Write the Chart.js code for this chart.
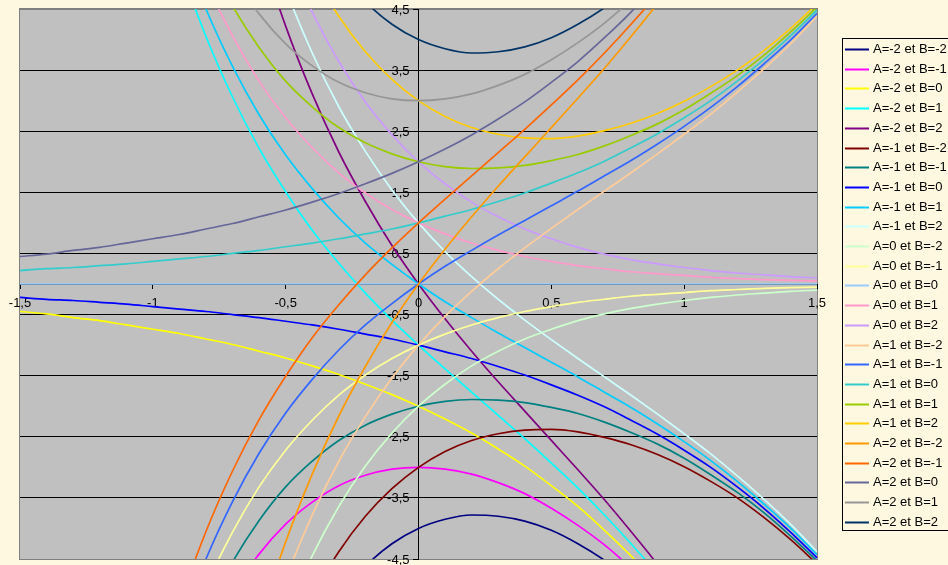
<!DOCTYPE html>
<html>
<head>
<meta charset="utf-8">
<title>A e^x + B e^-2x</title>
<script src="https://cdn.jsdelivr.net/npm/chart.js@4.4.0/dist/chart.umd.min.js"></script>
<style>
  html, body { margin: 0; padding: 0; background: #FFF8E0; }
  #wrap { position: relative; width: 948px; height: 565px; overflow: hidden; }
</style>
</head>
<body>
<div id="wrap">
  <canvas id="myChart" width="948" height="565"></canvas>
</div>
<script>
// abscisses
const xValues = [-1.5,-1.4,-1.3,-1.2,-1.1,-1,-0.9,-0.8,-0.7,-0.6,-0.5,-0.4,-0.3,-0.2,-0.1,0,
                 0.1,0.2,0.3,0.4,0.5,0.6,0.7,0.8,0.9,1,1.1,1.2,1.3,1.4,1.5];
const xTicks = [-1.5,-1,-0.5,0,0.5,1,1.5];
const xTickLabels = ['-1,5','-1','-0,5','0','0,5','1','1,5'];
const yTicks = [-4.5,-3.5,-2.5,-1.5,-0.5,0.5,1.5,2.5,3.5,4.5];
const yTickLabels = ['-4,5','-3,5','-2,5','-1,5','-0,5','0,5','1,5','2,5','3,5','4,5'];

const seriesLabels = [
  'A=-2 et B=-2','A=-2 et B=-1','A=-2 et B=0','A=-2 et B=1','A=-2 et B=2',
  'A=-1 et B=-2','A=-1 et B=-1','A=-1 et B=0','A=-1 et B=1','A=-1 et B=2',
  'A=0 et B=-2','A=0 et B=-1','A=0 et B=0','A=0 et B=1','A=0 et B=2',
  'A=1 et B=-2','A=1 et B=-1','A=1 et B=0','A=1 et B=1','A=1 et B=2',
  'A=2 et B=-2','A=2 et B=-1','A=2 et B=0','A=2 et B=1','A=2 et B=2'
];
const seriesColors = [
  '#000080','#FF00FF','#FFFF00','#00FFFF','#800080',
  '#800000','#008080','#0000FF','#00CCFF','#CCFFFF',
  '#CCFFCC','#FFFF99','#99CCFF','#FF99CC','#CC99FF',
  '#FFCC99','#3366FF','#33CCCC','#99CC00','#FFCC00',
  '#FF9900','#FF6600','#666699','#969696','#003366'
];

// valeurs
const yAm2Bm2 = [-40.62,-33.38,-27.47,-22.65,-18.72,-15.51,-12.91,-10.80,-9.10,-7.74,-6.65,-5.79,-5.13,-4.62,-4.25,-4,-3.85,-3.78,-3.80,-3.88,-4.03,-4.25,-4.52,-4.85,-5.25,-5.71,-6.23,-6.82,-7.49,-8.23,-9.06];
const yAm2Bm1 = [-20.53,-16.94,-14.01,-11.63,-9.69,-8.12,-6.86,-5.85,-5.05,-4.42,-3.93,-3.57,-3.30,-3.13,-3.03,-3,-3.03,-3.11,-3.25,-3.43,-3.67,-3.95,-4.27,-4.65,-5.08,-5.57,-6.12,-6.73,-7.41,-8.17,-9.01];
const yAm2B0  = [-0.45,-0.49,-0.55,-0.60,-0.67,-0.74,-0.81,-0.90,-0.99,-1.10,-1.21,-1.34,-1.48,-1.64,-1.81,-2,-2.21,-2.44,-2.70,-2.98,-3.30,-3.64,-4.03,-4.45,-4.92,-5.44,-6.01,-6.64,-7.34,-8.11,-8.96];
const yAm2B1  = [19.64,15.95,12.92,10.42,8.36,6.65,5.24,4.05,3.06,2.22,1.51,0.88,0.34,-0.15,-0.59,-1,-1.39,-1.77,-2.15,-2.53,-2.93,-3.34,-3.78,-4.25,-4.75,-5.30,-5.90,-6.55,-7.26,-8.05,-8.91];
const yAm2B2  = [39.72,32.40,26.38,21.44,17.38,14.04,11.29,9.01,7.12,5.54,4.22,3.11,2.16,1.35,0.63,0,-0.57,-1.10,-1.60,-2.08,-2.56,-3.04,-3.53,-4.05,-4.59,-5.17,-5.79,-6.46,-7.19,-7.99,-8.86];
const yAm1Bm2 = [-40.39,-33.14,-27.20,-22.35,-18.38,-15.15,-12.51,-10.36,-8.61,-7.19,-6.04,-5.12,-4.38,-3.80,-3.35,-3,-2.74,-2.56,-2.45,-2.39,-2.38,-2.42,-2.51,-2.63,-2.79,-2.99,-3.23,-3.50,-3.82,-4.18,-4.58];
const yAm1Bm1 = [-20.31,-16.69,-13.74,-11.32,-9.36,-7.76,-6.46,-5.40,-4.55,-3.87,-3.32,-2.90,-2.56,-2.31,-2.13,-2,-1.92,-1.89,-1.90,-1.94,-2.02,-2.12,-2.26,-2.43,-2.62,-2.85,-3.12,-3.41,-3.74,-4.12,-4.53];
const yAm1B0  = [-0.22,-0.25,-0.27,-0.30,-0.33,-0.37,-0.41,-0.45,-0.50,-0.55,-0.61,-0.67,-0.74,-0.82,-0.90,-1,-1.11,-1.22,-1.35,-1.49,-1.65,-1.82,-2.01,-2.23,-2.46,-2.72,-3.00,-3.32,-3.67,-4.06,-4.48];
const yAm1B1  = [19.86,16.20,13.19,10.72,8.69,7.02,5.64,4.50,3.56,2.77,2.11,1.56,1.08,0.67,0.32,0,-0.29,-0.55,-0.80,-1.04,-1.28,-1.52,-1.77,-2.02,-2.29,-2.58,-2.89,-3.23,-3.60,-3.99,-4.43];
const yAm1B2  = [39.95,32.64,26.65,21.74,17.72,14.41,11.69,9.46,7.61,6.09,4.83,3.78,2.90,2.17,1.54,1,0.53,0.12,-0.25,-0.59,-0.91,-1.22,-1.52,-1.82,-2.13,-2.45,-2.78,-3.14,-3.52,-3.93,-4.38];
const yA0Bm2  = [-40.17,-32.89,-26.93,-22.05,-18.05,-14.78,-12.10,-9.91,-8.11,-6.64,-5.44,-4.45,-3.64,-2.98,-2.44,-2,-1.64,-1.34,-1.10,-0.90,-0.74,-0.60,-0.49,-0.40,-0.33,-0.27,-0.22,-0.18,-0.15,-0.12,-0.10];
const yA0Bm1  = [-20.09,-16.44,-13.46,-11.02,-9.03,-7.39,-6.05,-4.95,-4.06,-3.32,-2.72,-2.23,-1.82,-1.49,-1.22,-1,-0.82,-0.67,-0.55,-0.45,-0.37,-0.30,-0.25,-0.20,-0.17,-0.14,-0.11,-0.09,-0.07,-0.06,-0.05];
const yA0B0   = [0,0,0,0,0,0,0,0,0,0,0,0,0,0,0,0,0,0,0,0,0,0,0,0,0,0,0,0,0,0,0];
const yA0B1   = [20.09,16.44,13.46,11.02,9.03,7.39,6.05,4.95,4.06,3.32,2.72,2.23,1.82,1.49,1.22,1,0.82,0.67,0.55,0.45,0.37,0.30,0.25,0.20,0.17,0.14,0.11,0.09,0.07,0.06,0.05];
const yA0B2   = [40.17,32.89,26.93,22.05,18.05,14.78,12.10,9.91,8.11,6.64,5.44,4.45,3.64,2.98,2.44,2,1.64,1.34,1.10,0.90,0.74,0.60,0.49,0.40,0.33,0.27,0.22,0.18,0.15,0.12,0.10];
const yA1Bm2  = [-39.95,-32.64,-26.65,-21.74,-17.72,-14.41,-11.69,-9.46,-7.61,-6.09,-4.83,-3.78,-2.90,-2.17,-1.54,-1,-0.53,-0.12,0.25,0.59,0.91,1.22,1.52,1.82,2.13,2.45,2.78,3.14,3.52,3.93,4.38];
const yA1Bm1  = [-19.86,-16.20,-13.19,-10.72,-8.69,-7.02,-5.64,-4.50,-3.56,-2.77,-2.11,-1.56,-1.08,-0.67,-0.32,0,0.29,0.55,0.80,1.04,1.28,1.52,1.77,2.02,2.29,2.58,2.89,3.23,3.60,3.99,4.43];
const yA1B0   = [0.22,0.25,0.27,0.30,0.33,0.37,0.41,0.45,0.50,0.55,0.61,0.67,0.74,0.82,0.90,1,1.11,1.22,1.35,1.49,1.65,1.82,2.01,2.23,2.46,2.72,3.00,3.32,3.67,4.06,4.48];
const yA1B1   = [20.31,16.69,13.74,11.32,9.36,7.76,6.46,5.40,4.55,3.87,3.32,2.90,2.56,2.31,2.13,2,1.92,1.89,1.90,1.94,2.02,2.12,2.26,2.43,2.62,2.85,3.12,3.41,3.74,4.12,4.53];
const yA1B2   = [40.39,33.14,27.20,22.35,18.38,15.15,12.51,10.36,8.61,7.19,6.04,5.12,4.38,3.80,3.35,3,2.74,2.56,2.45,2.39,2.38,2.42,2.51,2.63,2.79,2.99,3.23,3.50,3.82,4.18,4.58];
const yA2Bm2  = [-39.72,-32.40,-26.38,-21.44,-17.38,-14.04,-11.29,-9.01,-7.12,-5.54,-4.22,-3.11,-2.16,-1.35,-0.63,0,0.57,1.10,1.60,2.08,2.56,3.04,3.53,4.05,4.59,5.17,5.79,6.46,7.19,7.99,8.86];
const yA2Bm1  = [-19.64,-15.95,-12.92,-10.42,-8.36,-6.65,-5.24,-4.05,-3.06,-2.22,-1.51,-0.88,-0.34,0.15,0.59,1,1.39,1.77,2.15,2.53,2.93,3.34,3.78,4.25,4.75,5.30,5.90,6.55,7.26,8.05,8.91];
const yA2B0   = [0.45,0.49,0.55,0.60,0.67,0.74,0.81,0.90,0.99,1.10,1.21,1.34,1.48,1.64,1.81,2,2.21,2.44,2.70,2.98,3.30,3.64,4.03,4.45,4.92,5.44,6.01,6.64,7.34,8.11,8.96];
const yA2B1   = [20.53,16.94,14.01,11.63,9.69,8.12,6.86,5.85,5.05,4.42,3.93,3.57,3.30,3.13,3.03,3,3.03,3.11,3.25,3.43,3.67,3.95,4.27,4.65,5.08,5.57,6.12,6.73,7.41,8.17,9.01];
const yA2B2   = [40.62,33.38,27.47,22.65,18.72,15.51,12.91,10.80,9.10,7.74,6.65,5.79,5.13,4.62,4.25,4,3.85,3.78,3.80,3.88,4.03,4.25,4.52,4.85,5.25,5.71,6.23,6.82,7.49,8.23,9.06];

const allSeries = [
  yAm2Bm2, yAm2Bm1, yAm2B0, yAm2B1, yAm2B2,
  yAm1Bm2, yAm1Bm1, yAm1B0, yAm1B1, yAm1B2,
  yA0Bm2, yA0Bm1, yA0B0, yA0B1, yA0B2,
  yA1Bm2, yA1Bm1, yA1B0, yA1B1, yA1B2,
  yA2Bm2, yA2Bm1, yA2B0, yA2B1, yA2B2
];

const FONT = 'Arial, "Liberation Sans", sans-serif';

// fond gris de la zone de traçage (style Excel)
const plotAreaPlugin = {
  id: 'plotArea',
  beforeDraw(chart) {
    const a = chart.chartArea;
    const ctx = chart.ctx;
    ctx.save();
    ctx.fillStyle = '#C0C0C0';
    ctx.fillRect(a.left, a.top, a.right - a.left, a.bottom - a.top);
    ctx.strokeStyle = '#808080';
    ctx.lineWidth = 1;
    ctx.strokeRect(Math.round(a.left) - 0.5, Math.round(a.top) - 0.5,
                   Math.round(a.right - a.left) + 1, Math.round(a.bottom - a.top) + 1);
    ctx.restore();
  }
};

// étiquettes de l'axe vertical, à gauche de l'axe placé en x=0
const yLabelsPlugin = {
  id: 'yLabels',
  beforeDatasetsDraw(chart) {
    const sy = chart.scales.y;
    const xAxis = chart.scales.x.getPixelForValue(0);
    const ctx = chart.ctx;
    ctx.save();
    ctx.font = '13px ' + FONT;
    ctx.fillStyle = '#000';
    ctx.textAlign = 'right';
    ctx.textBaseline = 'middle';
    sy.ticks.forEach((t, i) => {
      ctx.fillText(yTickLabels[i], xAxis - 9, sy.getPixelForValue(t.value) + 1);
    });
    ctx.restore();
  }
};

// légende encadrée à droite
const legendPlugin = {
  id: 'boxLegend',
  afterDraw(chart) {
    const ctx = chart.ctx;
    ctx.save();
    ctx.strokeStyle = '#000';
    ctx.lineWidth = 1;
    ctx.strokeRect(842.5, 38.5, 130, 492);
    ctx.font = '13px ' + FONT;
    ctx.textBaseline = 'middle';
    chart.data.datasets.forEach((ds, i) => {
      const y = Math.round(49 + i * 19.7) + 0.5;
      ctx.strokeStyle = ds.borderColor;
      ctx.lineWidth = 2;
      ctx.beginPath();
      ctx.moveTo(845, y);
      ctx.lineTo(869, y);
      ctx.stroke();
      ctx.fillStyle = '#000';
      ctx.fillText(ds.label, 873, y);
    });
    ctx.restore();
  }
};

const datasets = allSeries.map((serie, i) => ({
  label: seriesLabels[i],
  data: xValues.map((x, j) => ({ x: x, y: serie[j] })),
  borderColor: seriesColors[i],
  backgroundColor: seriesColors[i],
  borderWidth: 1.7,
  pointRadius: 0,
  pointHoverRadius: 0,
  fill: false,
  cubicInterpolationMode: 'monotone',
  capBezierPoints: false,
  order: allSeries.length - i
}));

new Chart(document.getElementById('myChart'), {
  type: 'line',
  data: { datasets: datasets },
  plugins: [plotAreaPlugin, yLabelsPlugin, legendPlugin],
  options: {
    responsive: false,
    animation: false,
    events: [],
    layout: { padding: { left: 20, right: 131, top: 9, bottom: 6 } },
    plugins: { legend: { display: false }, tooltip: { enabled: false } },
    scales: {
      x: {
        type: 'linear',
        position: { y: 0 },
        min: -1.5,
        max: 1.5,
        afterBuildTicks: s => { s.ticks = xTicks.map(v => ({ value: v })); },
        ticks: {
          autoSkip: false,
          maxRotation: 0,
          padding: 8,
          color: '#000',
          font: { family: FONT, size: 13 },
          callback: (v, i) => xTickLabels[i]
        },
        grid: { drawOnChartArea: false, drawTicks: true, tickLength: 4, color: '#000' },
        border: { display: true, color: '#000', width: 1 }
      },
      y: {
        type: 'linear',
        position: { x: 0 },
        min: -4.5,
        max: 4.5,
        afterBuildTicks: s => { s.ticks = yTicks.map(v => ({ value: v })); },
        ticks: { display: false },
        grid: {
          drawOnChartArea: true,
          drawTicks: true,
          tickLength: 5,
          color: c => (c.tick && Math.abs(c.tick.value) === 4.5) ? '#808080' : '#000000',
          tickColor: '#000'
        },
        border: { display: true, color: '#000', width: 1 }
      }
    }
  }
});
</script>
</body>
</html>
